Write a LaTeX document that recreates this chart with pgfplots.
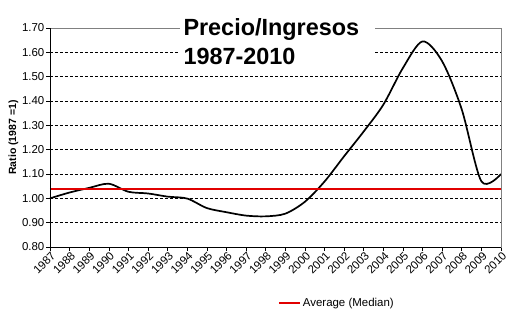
\documentclass[border=0pt]{standalone}
\usepackage{pgfplots}
\pgfplotsset{compat=1.18}
\usepackage{fontspec}
\setmainfont{Liberation Sans}
\definecolor{avgred}{RGB}{225,0,0}
\definecolor{frame}{RGB}{128,128,128}
\begin{document}
\begin{tikzpicture}
\useasboundingbox (-50bp,-78bp) rectangle (477bp,247bp);
\begin{axis}[
  at={(0,0)}, anchor=south west,
  scale only axis, width=451bp, height=219bp,
  xmin=1987, xmax=2010, ymin=0.8, ymax=1.7,
  xtick={1987,1988,...,2010},
  ytick={0.8,0.9,...,1.71},
  xtick pos=left, ytick pos=left,
  tick align=outside, major tick length=3.5bp,
  tick style={black, line width=0.6bp},
  axis line style={frame, line width=0.7bp},
  ymajorgrids, grid style={black, line width=0.6bp, dash pattern=on 3bp off 2bp},
  /pgf/number format/assume math mode=true,
  xticklabel style={/pgf/number format/1000 sep={}, rotate=45, anchor=east, inner sep=1bp, yshift=-5bp, xshift=1bp, font=\fontsize{11.5}{13}\selectfont},
  yticklabel style={/pgf/number format/fixed, /pgf/number format/fixed zerofill, /pgf/number format/precision=2, font=\fontsize{11.5}{13}\selectfont, inner sep=2bp},
  ylabel={\bfseries Ratio (1987 =1)},
  ylabel style={at={(axis description cs:-0.081,0.5)}, anchor=center, font=\fontsize{10.5}{12}\selectfont},
  legend style={at={(axis description cs:0.636,-0.256)}, anchor=center, draw=none, fill=none, font=\fontsize{11.5}{13}\selectfont, inner sep=0pt},
  legend image code/.code={\draw[#1] (0bp,0bp) -- (21bp,0bp);},
  clip=false,
]
\addplot[black, line width=1.7bp, smooth, tension=0.5, forget plot] coordinates {
 (1987,1.000) (1988,1.024) (1989,1.043) (1990,1.060) (1991,1.027)
 (1992,1.020) (1993,1.007) (1994,0.999) (1995,0.960) (1996,0.943)
 (1997,0.929) (1998,0.926) (1999,0.937) (2000,0.986) (2001,1.069)
 (2002,1.173) (2003,1.275) (2004,1.385) (2005,1.536) (2006,1.645)
 (2007,1.563) (2008,1.365) (2009,1.070) (2010,1.100)
};
\addplot[avgred, line width=2bp] coordinates {(1987,1.04) (2010,1.04)};
\addlegendentry{Average (Median)}
\draw[frame, line width=0.7bp] (rel axis cs:0,1) -- (rel axis cs:1,1) -- (rel axis cs:1,0);
\draw[black, line width=0.7bp] (rel axis cs:0,1) -- (rel axis cs:0,0) -- (rel axis cs:1,0);
\end{axis}
\fill[white] (130bp,177bp) rectangle (325bp,226bp);
\node[anchor=base west, inner sep=0pt, font=\fontsize{23.5}{28}\selectfont\bfseries] at (133.3bp,211.3bp) {Precio/Ingresos};
\node[anchor=base west, inner sep=0pt, font=\fontsize{23.5}{28}\selectfont\bfseries] at (133.3bp,182.7bp) {1987-2010};
\end{tikzpicture}
\end{document}
